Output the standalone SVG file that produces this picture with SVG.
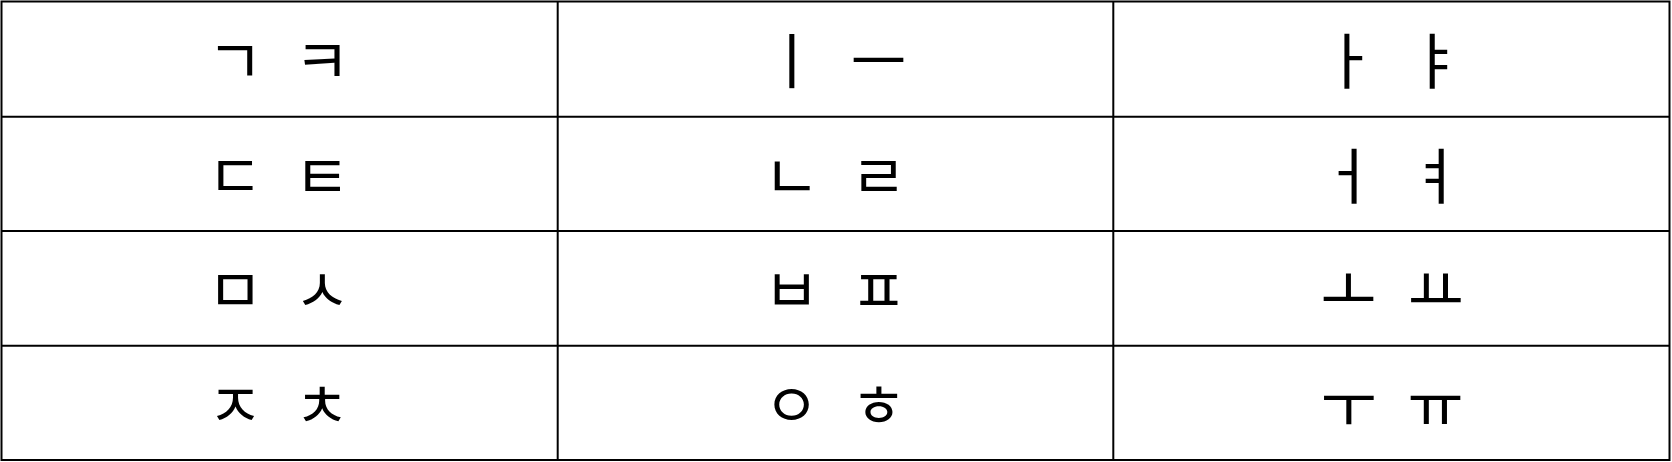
<svg xmlns="http://www.w3.org/2000/svg" width="1672" height="462" viewBox="0 0 1672 462">
<style>
.grid{stroke:#000;stroke-width:2;fill:none}
.j{font-family:"Noto Sans CJK KR","Noto Sans CJK SC",sans-serif;font-size:61px;fill:#000;text-anchor:middle;dominant-baseline:central}
</style>
<rect width="1672" height="462" fill="#fff"/>
<g id="grid">
<rect class="grid" x="1.5" y="1.5" width="1668" height="458.5"/>
<line class="grid" x1="1.5" y1="116.7" x2="1669.5" y2="116.7"/>
<line class="grid" x1="1.5" y1="231" x2="1669.5" y2="231"/>
<line class="grid" x1="1.5" y1="345.8" x2="1669.5" y2="345.8"/>
<line class="grid" x1="557.7" y1="1.5" x2="557.7" y2="460"/>
<line class="grid" x1="1113.3" y1="1.5" x2="1113.3" y2="460"/>
</g>
<g id="cell-r1c1"><text class="j" x="235" y="57">ㄱ</text><text class="j" x="322" y="57">ㅋ</text></g>
<g id="cell-r1c2"><text class="j" x="791.5" y="57">ㅣ</text><text class="j" x="878.5" y="57">ㅡ</text></g>
<g id="cell-r1c3"><text class="j" x="1348.5" y="57">ㅏ</text><text class="j" x="1435.5" y="57">ㅑ</text></g>
<g id="cell-r2c1"><text class="j" x="235" y="172">ㄷ</text><text class="j" x="322" y="172">ㅌ</text></g>
<g id="cell-r2c2"><text class="j" x="791.5" y="172">ㄴ</text><text class="j" x="878.5" y="172">ㄹ</text></g>
<g id="cell-r2c3"><text class="j" x="1348.5" y="172">ㅓ</text><text class="j" x="1435.5" y="172">ㅕ</text></g>
<g id="cell-r3c1"><text class="j" x="235" y="286.4">ㅁ</text><text class="j" x="322" y="286.4">ㅅ</text></g>
<g id="cell-r3c2"><text class="j" x="791.5" y="286.4">ㅂ</text><text class="j" x="878.5" y="286.4">ㅍ</text></g>
<g id="cell-r3c3"><text class="j" x="1348.5" y="286.4">ㅗ</text><text class="j" x="1435.5" y="286.4">ㅛ</text></g>
<g id="cell-r4c1"><text class="j" x="235" y="401">ㅈ</text><text class="j" x="322" y="401">ㅊ</text></g>
<g id="cell-r4c2"><text class="j" x="791.5" y="401">ㅇ</text><text class="j" x="878.5" y="401">ㅎ</text></g>
<g id="cell-r4c3"><text class="j" x="1348.5" y="401">ㅜ</text><text class="j" x="1435.5" y="401">ㅠ</text></g>
</svg>
